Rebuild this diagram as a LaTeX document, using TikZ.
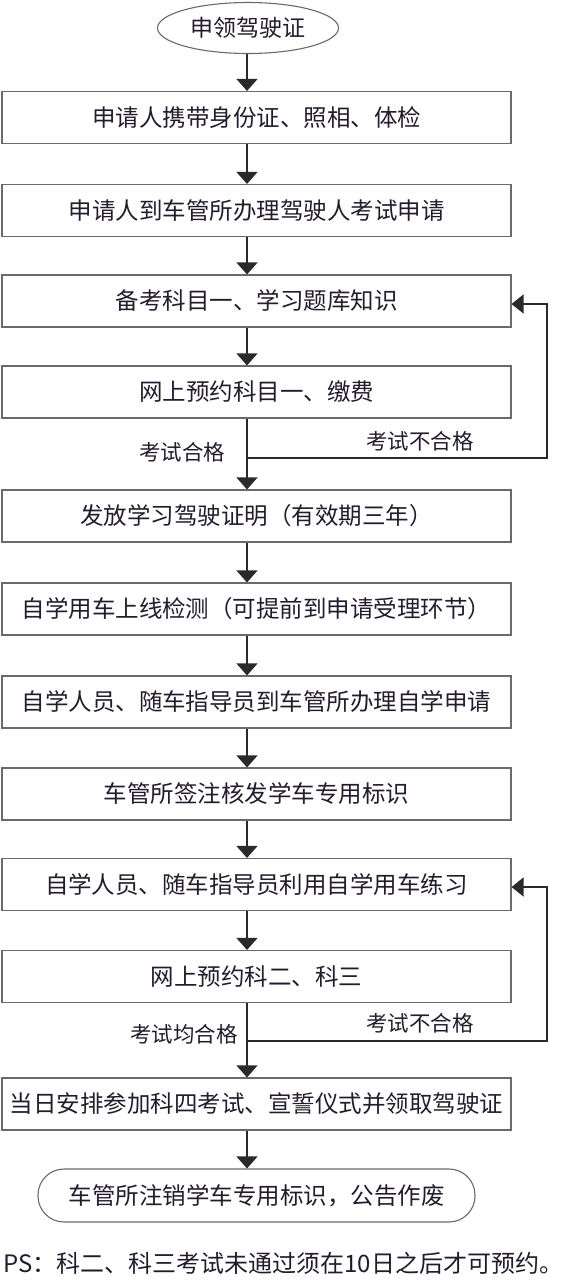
\documentclass[tikz,border=0pt]{standalone}
\usepackage{fontspec}
\setmainfont{Noto Sans CJK SC}
\usetikzlibrary{arrows.meta,shapes.geometric}
\definecolor{txt}{HTML}{241C2C}
\definecolor{edge}{HTML}{6A6A6A}
\definecolor{wire}{HTML}{2A2A2A}
\tikzset{
  stepbox/.style={draw=edge,line width=1.1pt,minimum width=509pt,minimum height=52pt,inner sep=0pt,text=txt,font=\fontsize{23.5}{26}\selectfont},
  flow/.style={draw=wire,line width=1.2pt,-{Triangle[width=21pt,length=12pt]}},
  back/.style={draw=wire,line width=1.2pt,-{Triangle[width=19pt,length=12pt]}},
  lbl/.style={text=txt,font=\fontsize{21.5}{24}\selectfont,inner sep=0pt}
}
\begin{document}
\begin{tikzpicture}[x=1pt,y=-1pt]
\useasboundingbox[fill=white] (0,0) rectangle (570,1280);
\coordinate (col) at (247,0);
\node[draw=edge,line width=1.1pt,ellipse,minimum width=181pt,minimum height=51pt,inner sep=0pt,text=txt,font=\fontsize{23}{26}\selectfont] (e) at (248,28) {申领驾驶证};
\node[stepbox] (b1) at (256.5,117.5) {申请人携带身份证、照相、体检};
\node[stepbox] (b2) at (256.5,210.5) {申请人到车管所办理驾驶人考试申请};
\node[stepbox] (b3) at (256.5,301) {备考科目一、学习题库知识};
\node[stepbox] (b4) at (256.5,392) {网上预约科目一、缴费};
\node[stepbox] (b5) at (256.5,516) {发放学习驾驶证明（有效期三年）};
\node[stepbox] (b6) at (256.5,609) {自学用车上线检测（可提前到申请受理环节）};
\node[stepbox] (b7) at (256.5,702) {自学人员、随车指导员到车管所办理自学申请};
\node[stepbox] (b8) at (256.5,794) {车管所签注核发学车专用标识};
\node[stepbox] (b9) at (256.5,884.5) {自学人员、随车指导员利用自学用车练习};
\node[stepbox] (b10) at (256.5,976.5) {网上预约科二、科三};
\node[stepbox] (b11) at (256.5,1104) {当日安排参加科四考试、宣誓仪式并领取驾驶证};
\node[draw=edge,line width=1.1pt,rounded corners=26pt,minimum width=437pt,minimum height=53pt,inner sep=0pt,text=txt,font=\fontsize{23.5}{26}\selectfont] (t) at (256.5,1195.5) {车管所注销学车专用标识，公告作废};
\node[anchor=west,text=txt,font=\fontsize{24}{26}\selectfont,inner sep=0pt] (ps) at (3,1263) {PS：科二、科三考试未通过须在10日之后才可预约。};
% main arrows
\draw[flow] (e.south -| col) -- (b1.north -| col);
\draw[flow] (b1.south -| col) -- (b2.north -| col);
\draw[flow] (b2.south -| col) -- (b3.north -| col);
\draw[flow] (b3.south -| col) -- (b4.north -| col);
\draw[flow] (b4.south -| col) -- (b5.north -| col);
\draw[flow] (b5.south -| col) -- (b6.north -| col);
\draw[flow] (b6.south -| col) -- (b7.north -| col);
\draw[flow] (b7.south -| col) -- (b8.north -| col);
\draw[flow] (b8.south -| col) -- (b9.north -| col);
\draw[flow] (b9.south -| col) -- (b10.north -| col);
\draw[flow] (b10.south -| col) -- (b11.north -| col);
\draw[flow] (b11.south -| col) -- (t.north -| col);
% loops
\coordinate (j1) at (247,458);
\coordinate (r1) at (547,458);
\draw[back] (j1) -- (r1) |- ([yshift=-3pt]b3.east);
\coordinate (j2) at (247,1041);
\coordinate (r2) at (547,1041);
\draw[back] (j2) -- (r2) |- ([yshift=-2.5pt]b9.east);
% labels
\node[lbl] (l1) at (182,452) {考试合格};
\node[lbl] (l2) at (420,441) {考试不合格};
\node[lbl] (l3) at (184,1034) {考试均合格};
\node[lbl] (l4) at (420,1023) {考试不合格};
\end{tikzpicture}
\end{document}
